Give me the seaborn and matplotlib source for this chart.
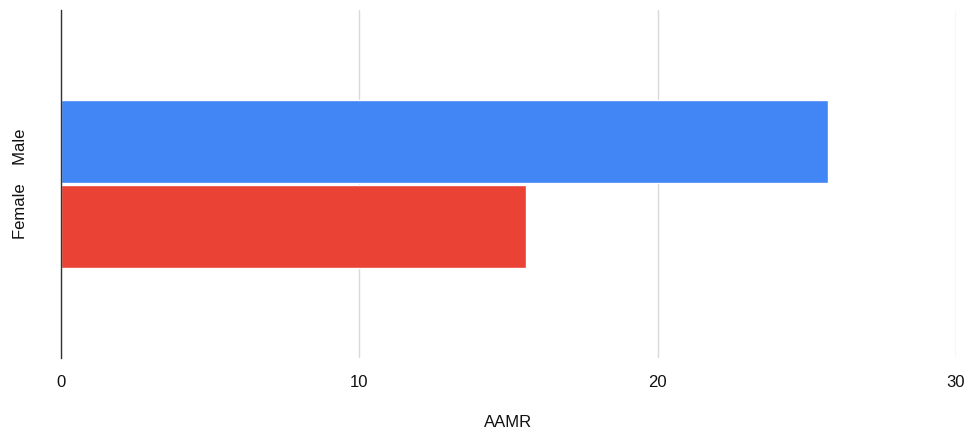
import matplotlib
matplotlib.use("Agg")
import matplotlib.pyplot as plt
import seaborn as sns
import pandas as pd

categories = ["Female    Male"]
sexes = ["Male", "Female"]
aamr = [25.7, 15.6]
colors = ["#4285F4", "#EA4335"]
xticks = [0, 10, 20, 30]

df = pd.DataFrame({"cat": categories * len(sexes), "sex": sexes, "AAMR": aamr})

sns.set_style("white")
plt.rcParams["font.family"] = ["Liberation Sans", "DejaVu Sans"]

fig = plt.figure(figsize=(9.68, 4.34), dpi=100)
ax = fig.add_axes([61 / 968, 1 - 358 / 434, (956 - 61) / 968, (358 - 10) / 434])

sns.barplot(data=df, x="AAMR", y="cat", hue="sex", palette=colors, orient="h",
            width=0.82, gap=0.025, ax=ax, legend=False, saturation=1)

ax.set_xlim(0, 30)
ax.set_ylim(0.84, -0.84)
ax.set_xticks(xticks)
ax.set_xticklabels([str(t) for t in xticks], fontsize=12, color="#111111")
ax.tick_params(axis="x", length=0, pad=12)
ax.tick_params(axis="y", length=0, pad=24)
for lab in ax.get_yticklabels():
    lab.set_rotation(90)
    lab.set_va("center")
    lab.set_fontsize(12)
    lab.set_color("#111111")
ax.set_ylabel("")
ax.set_xlabel("AAMR", fontsize=12, labelpad=18, color="#111111")

ax.grid(axis="x", color="#d9d9d9", linewidth=1)
ax.set_axisbelow(True)
for s in ["top", "right", "bottom"]:
    ax.spines[s].set_visible(False)
ax.spines["left"].set_color("#333333")
ax.spines["left"].set_linewidth(1)
ax.spines["left"].set_zorder(5)

fig.savefig("out.png", dpi=100)
